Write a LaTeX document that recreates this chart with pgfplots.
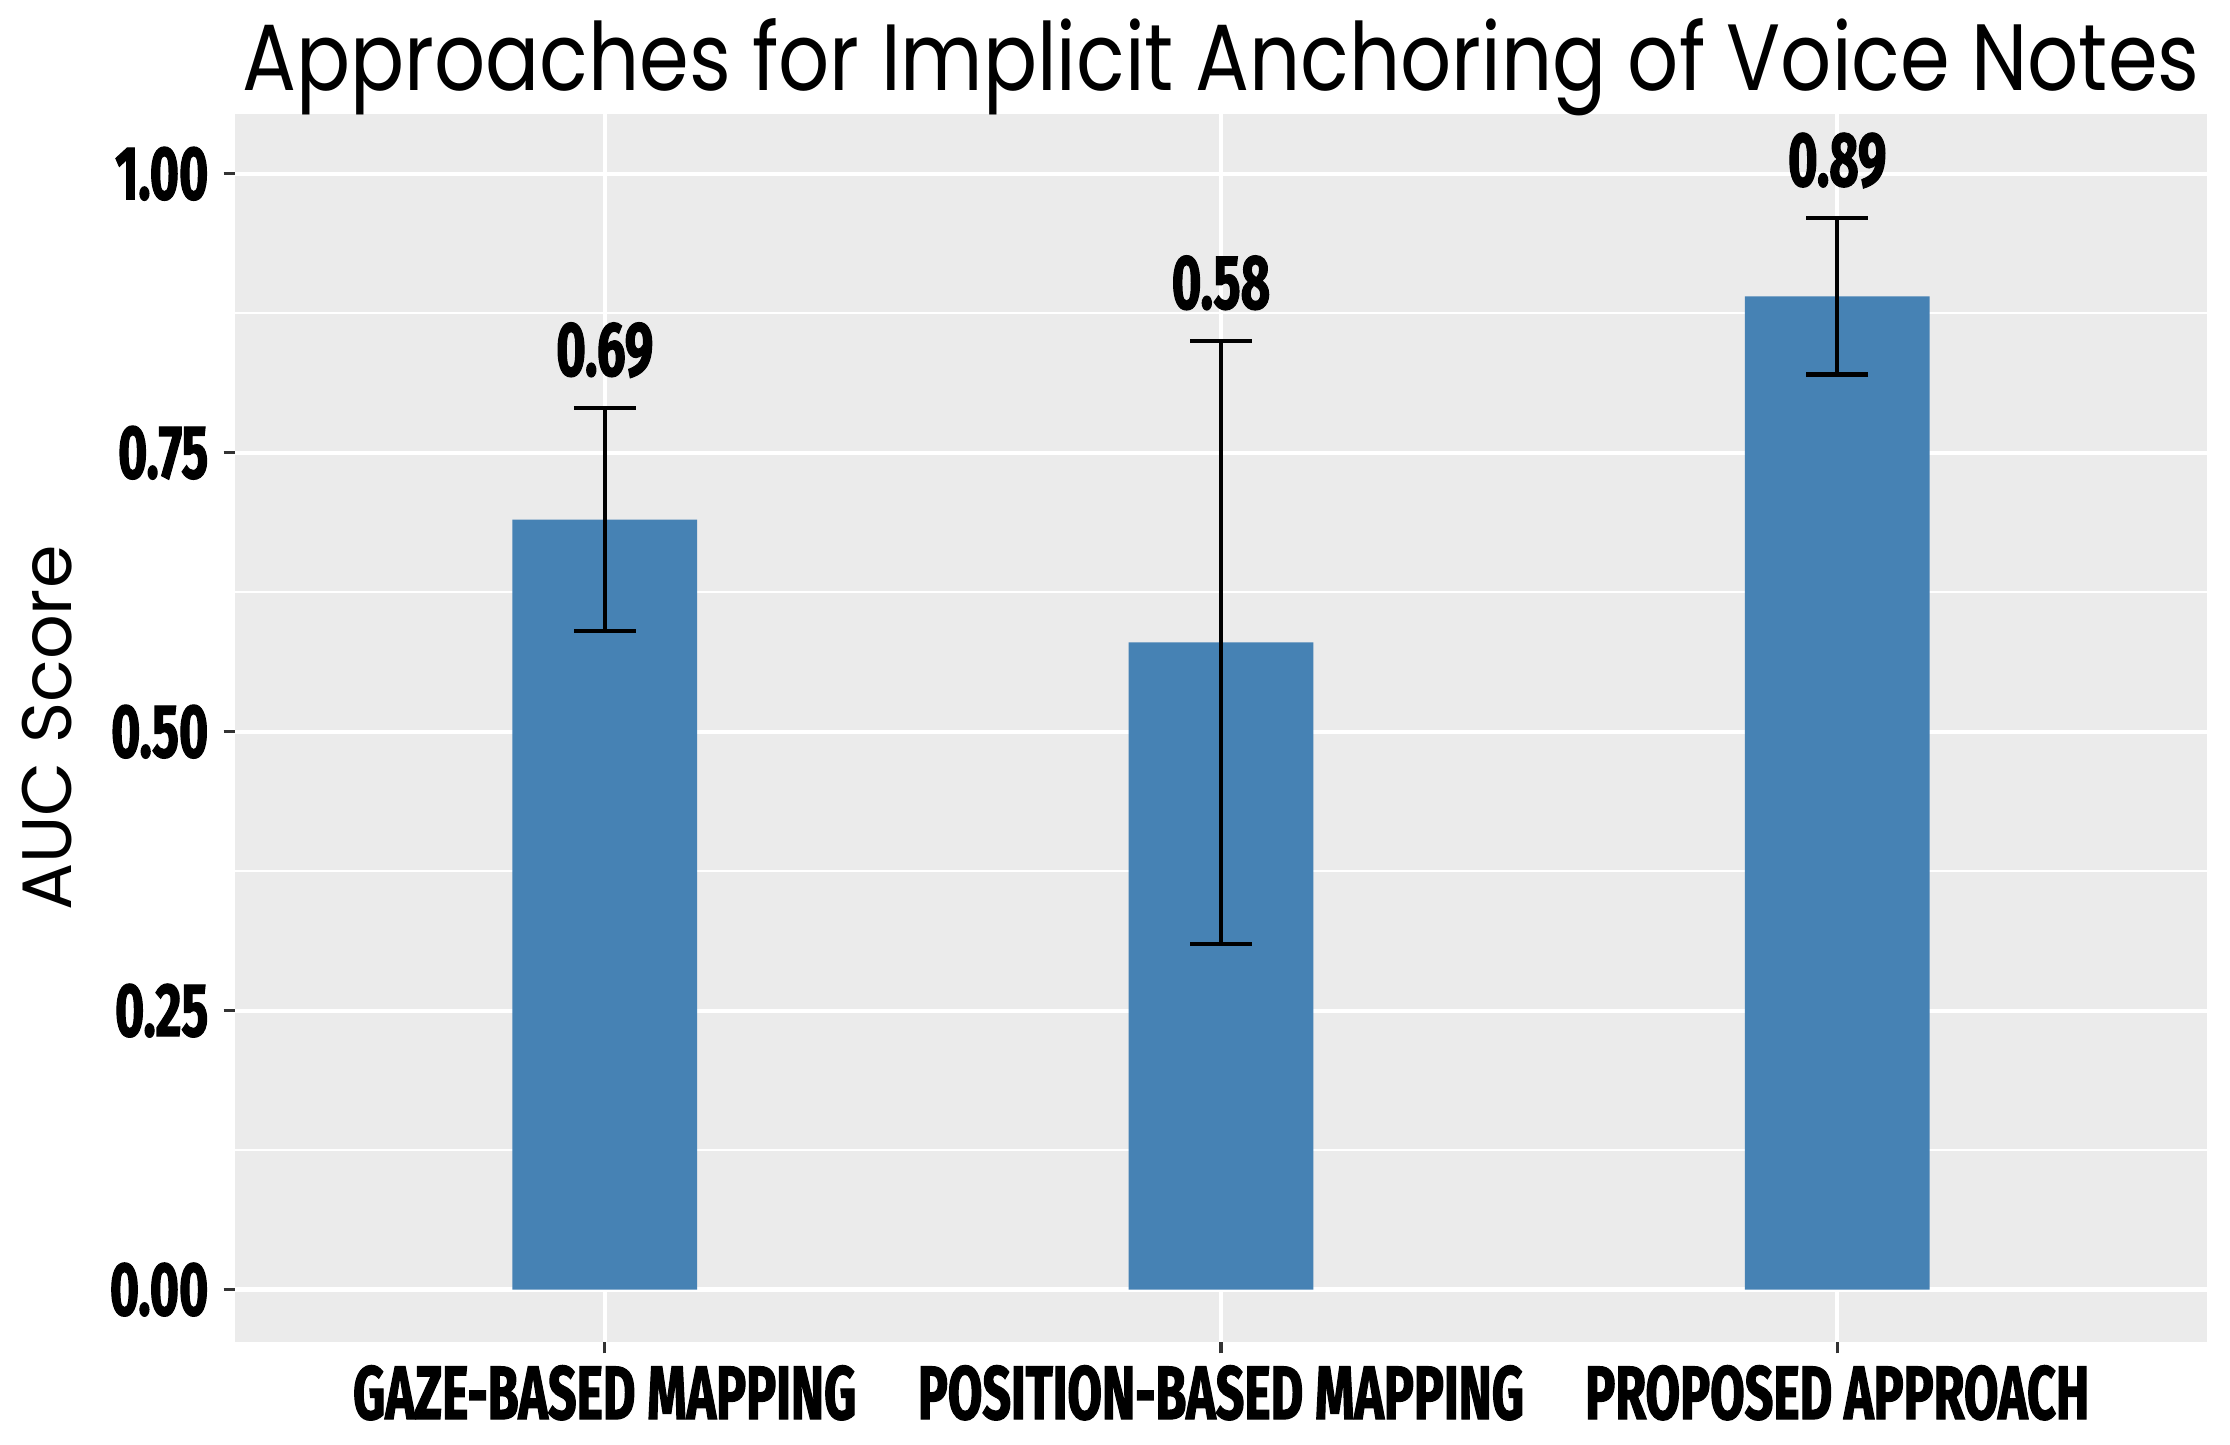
\documentclass[border=0pt]{standalone}
\usepackage{pgfplots}
\pgfplotsset{compat=1.18}
\usepackage{fontspec}
\setmainfont{Poppins}
\newfontfamily\titlefont[FakeStretch=0.85]{Poppins}
\newfontfamily\labfont{Poppins}
\newfontfamily\tickfont[FakeStretch=0.66,FakeBold=1.5]{Fira Sans}
\definecolor{panelbg}{HTML}{EBEBEB}
\definecolor{steelblue}{HTML}{4682B4}
\definecolor{tickgray}{HTML}{333333}
\pgfplotstableread{
x y ep em
1 0.69 0.10 0.10
2 0.58 0.27 0.27
3 0.89 0.07 0.07
}\bardata
\pgfplotstableread{
x y lab
1 0.819 0.69
2 0.879 0.58
3 0.989 0.89
}\labdata
\begin{document}
\begin{tikzpicture}
\begin{axis}[
  at={(0,0)}, anchor=south west,
  scale only axis, width=473.28pt, height=294.72pt,
  xmin=0.4, xmax=3.6, ymin=-0.047, ymax=1.0535,
  axis background/.style={fill=panelbg},
  axis line style={draw=none},
  xtick={1,2,3},
  xticklabels={GAZE-BASED MAPPING, POSITION-BASED MAPPING, PROPOSED APPROACH},
  ytick={0,0.25,0.5,0.75,1},
  yticklabels={0.00,0.25,0.50,0.75,1.00},
  minor ytick={0.125,0.375,0.625,0.875},
  xmajorgrids, ymajorgrids, yminorgrids,
  major grid style={white, line width=1pt},
  minor grid style={white, line width=0.5pt},
  tick align=outside,
  major tick length=2.7pt, minor tick length=0pt,
  tick style={tickgray, line width=0.8pt},
  xtick pos=bottom, ytick pos=left,
  ticklabel style={font=\tickfont\bfseries\fontsize{18.2}{20}\selectfont, text=black},
  yticklabel style={anchor=east, inner sep=0pt, xshift=-3.5pt},
  xticklabel style={anchor=base, inner sep=0pt, yshift=-15.8pt},
  every axis title shift=0pt,
  title={Approaches for Implicit Anchoring of Voice Notes},
  title style={at={(0.5,1)}, anchor=base, yshift=5.76pt, inner sep=0pt,
    font=\titlefont\fontsize{22.6}{25}\selectfont},
  ylabel={AUC Score},
  every axis y label/.style={at={(rel axis cs:0,0.5)}, rotate=90, anchor=center,
    yshift=45.1pt, inner sep=0pt, font=\labfont\fontsize{16.8}{19}\selectfont},
]
\addplot[ybar, bar width=0.3, fill=steelblue, draw=none,
  error bars/.cd, y dir=both, y explicit,
  error bar style={black, line width=1pt},
  error mark options={black, line width=1pt, mark size=7.4pt, rotate=90}]
  table[x=x, y=y, y error plus=ep, y error minus=em] {\bardata};
\addplot[draw=none, mark=none, nodes near coords, point meta=explicit symbolic,
  nodes near coords style={anchor=base, inner sep=0pt, yshift=0pt,
    font=\tickfont\bfseries\fontsize{18.5}{20}\selectfont, text=black}]
  table[x=x, y=y, meta=lab] {\labdata};
\end{axis}
\pgfresetboundingbox
\path (-56.4pt,-24.48pt) rectangle (478.8pt,322.08pt);
\end{tikzpicture}
\end{document}
